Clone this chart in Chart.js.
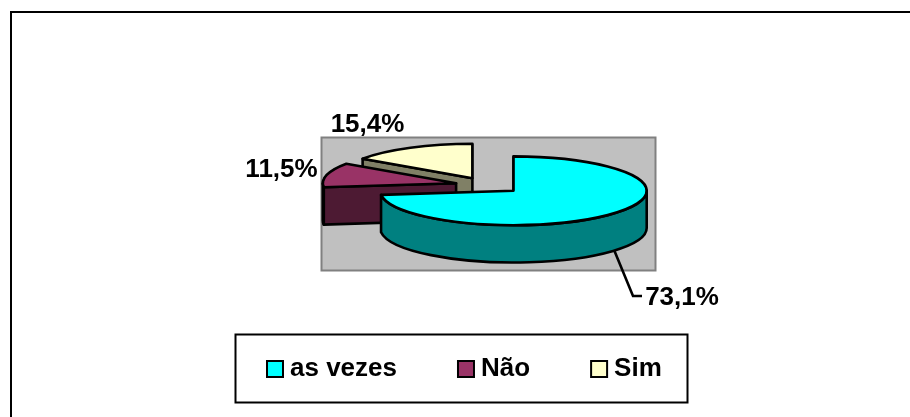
<!DOCTYPE html>
<html>
<head>
<meta charset="utf-8">
<style>
html,body{margin:0;padding:0;background:#fff;overflow:hidden}
#wrap{position:relative;width:910px;height:417px}
canvas{display:block}
</style>
<script src="https://cdn.jsdelivr.net/npm/chart.js@4/dist/chart.umd.js"></script>
</head>
<body>
<div id="wrap"><canvas id="c" width="910" height="417"></canvas></div>
<script>
// Data
const categories = ['as vezes', 'Não', 'Sim'];
const percents = [73.1, 11.5, 15.4];

// Styles
const topColors = ['#00FFFF', '#993366', '#FFFFCC'];
const wallColors = ['#008080', '#4D1A33', '#808066'];
const FONT = {family: '"Liberation Sans", Arial, sans-serif', weight: 'bold', size: 26};
const INK = 2.6;

// Layout of the tilted pie (screen pixels)
const pieCenter = [513.4, 190.8];
const pieRadius = 133.3;
const tilt = 0.258;
const depth = 37.3;
const sliceShift = [[0, 0], [-57.3, -7.6], [-41, -12.6]];
const plotRect = [321.5, 137.5, 334, 133];
const frameStart = [11, 12];
const legendRect = [235.5, 334.5, 452, 68];
const legendTextLeft = 273;
const legendCenterY = 371;
const labelPos = [[682, 298], [281.5, 170], [367.5, 125]];
const leader = [[614.5, 251], [633, 296], [642, 296]];

function fmt(v) { return v.toFixed(1).replace('.', ',') + '%'; }

function traceWall(ctx, x1, y1, x2, y2) {
  ctx.beginPath();
  ctx.moveTo(x1, y1); ctx.lineTo(x2, y2);
  ctx.lineTo(x2, y2 + depth); ctx.lineTo(x1, y1 + depth);
  ctx.closePath();
}

const tiltedPie = {
  id: 'tiltedPie',
  afterLayout(chart) {
    const lg = chart.legend, pad = lg.options.labels.padding;
    lg.left = legendTextLeft - pad;
    lg.right = chart.width;
    lg.top = legendCenterY - 15 - pad;
    lg.bottom = chart.height;
    lg.width = lg.right - lg.left;
    lg.height = lg.bottom - lg.top;
  },
  beforeDraw(chart) {
    const ctx = chart.ctx;
    ctx.save();
    ctx.fillStyle = '#fff';
    ctx.fillRect(0, 0, chart.width, chart.height);
    ctx.strokeStyle = '#000';
    ctx.lineWidth = 2;
    ctx.beginPath();
    ctx.moveTo(frameStart[0], chart.height + 5);
    ctx.lineTo(frameStart[0], frameStart[1]);
    ctx.lineTo(chart.width + 5, frameStart[1]);
    ctx.stroke();
    ctx.strokeRect(legendRect[0], legendRect[1], legendRect[2], legendRect[3]);
    ctx.fillStyle = '#C0C0C0';
    ctx.strokeStyle = '#808080';
    ctx.fillRect(plotRect[0], plotRect[1], plotRect[2], plotRect[3]);
    ctx.strokeRect(plotRect[0], plotRect[1], plotRect[2], plotRect[3]);
    ctx.restore();
  },
  beforeDatasetDraw(chart, args) {
    const ctx = chart.ctx;
    const arcs = args.meta.data;
    for (let i = arcs.length - 1; i >= 0; i--) {
      const el = arcs[i];
      const a = el.startAngle, b = el.endAngle, r = el.outerRadius, ry = r * tilt;
      const tx = pieCenter[0] + sliceShift[i][0], ty = pieCenter[1] + sliceShift[i][1];
      ctx.save();
      ctx.lineWidth = INK;
      ctx.lineJoin = 'round';
      ctx.strokeStyle = '#000';
      ctx.fillStyle = wallColors[i];
      // visible cut faces
      if (Math.cos(a) < -1e-6) {
        traceWall(ctx, tx, ty, tx + r * Math.cos(a), ty + ry * Math.sin(a));
        ctx.fill(); ctx.stroke();
      }
      if (Math.cos(b) > 1e-6) {
        traceWall(ctx, tx, ty, tx + r * Math.cos(b), ty + ry * Math.sin(b));
        ctx.fill(); ctx.stroke();
      }
      // visible part of the rim
      const ra = Math.max(a, 0), rb = Math.min(b, Math.PI);
      if (rb > ra) {
        ctx.beginPath();
        ctx.ellipse(tx, ty, r, ry, 0, ra, rb);
        ctx.ellipse(tx, ty + depth, r, ry, 0, rb, ra, true);
        ctx.closePath();
        ctx.fill(); ctx.stroke();
      }
      // top face: the library's own arc element, tilted
      ctx.save();
      ctx.translate(tx, ty);
      ctx.scale(1, tilt);
      ctx.translate(-el.x, -el.y);
      el.draw(ctx);
      ctx.restore();
      ctx.beginPath();
      ctx.moveTo(tx, ty);
      ctx.ellipse(tx, ty, r, ry, 0, a, b);
      ctx.closePath();
      ctx.stroke();
      ctx.restore();
    }
    return false;
  },
  afterDatasetsDraw(chart) {
    const ctx = chart.ctx;
    const vals = chart.data.datasets[0].data;
    ctx.save();
    ctx.strokeStyle = '#000';
    ctx.lineWidth = INK;
    ctx.beginPath();
    leader.forEach((p, i) => i ? ctx.lineTo(p[0], p[1]) : ctx.moveTo(p[0], p[1]));
    ctx.stroke();
    ctx.fillStyle = '#000';
    ctx.font = FONT.weight + ' ' + FONT.size + 'px ' + FONT.family;
    ctx.textAlign = 'center';
    ctx.textBaseline = 'middle';
    vals.forEach((v, i) => ctx.fillText(fmt(v), labelPos[i][0], labelPos[i][1]));
    ctx.restore();
  }
};

new Chart(document.getElementById('c'), {
  type: 'pie',
  data: {
    labels: categories,
    datasets: [{
      data: percents,
      backgroundColor: topColors,
      borderColor: '#000',
      borderWidth: 2,
      radius: pieRadius
    }]
  },
  options: {
    responsive: false,
    animation: false,
    events: [],
    plugins: {
      tooltip: {enabled: false},
      title: {display: false},
      legend: {
        display: true,
        position: 'bottom',
        align: 'start',
        labels: {
          usePointStyle: true,
          pointStyle: 'rect',
          boxWidth: 4,
          boxHeight: 16,
          padding: 67,
          color: '#000',
          font: FONT
        }
      }
    }
  },
  plugins: [tiltedPie]
});
</script>
</body>
</html>
